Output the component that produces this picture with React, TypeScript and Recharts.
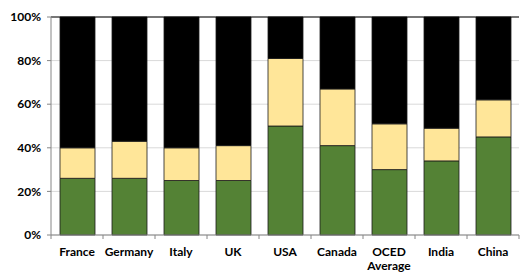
import React from "react";
import { BarChart, Bar, XAxis, YAxis, CartesianGrid, ReferenceLine } from "recharts";

const categories = ["France", "Germany", "Italy", "UK", "USA", "Canada", "OCED Average", "India", "China"];
const greenValues = [26, 26, 25, 25, 50, 41, 30, 34, 45];
const yellowValues = [14, 17, 15, 16, 31, 26, 21, 15, 17];
const blackValues = [60, 57, 60, 59, 19, 33, 49, 51, 38];
const yTicks = [0, 20, 40, 60, 80, 100];

const data = categories.map((name, i) => ({
  name,
  green: greenValues[i],
  yellow: yellowValues[i],
  black: blackValues[i],
}));

const FONT = "Lato, 'Open Sans', sans-serif";
const BAND = 468 / categories.length;

const XTick = (props: any) => {
  const { x, y, payload, index } = props;
  const words: string[] = payload.value === "OCED Average" ? ["OCED", "Average"] : [payload.value];
  return (
    <g>
      <line x1={x - BAND / 2} x2={x - BAND / 2} y1={y - 8} y2={y - 4} stroke="#868686" />
      {index === categories.length - 1 && (
        <line x1={x + BAND / 2} x2={x + BAND / 2} y1={y - 8} y2={y - 4} stroke="#868686" />
      )}
      <text x={x} y={y + 13} textAnchor="middle" fontFamily={FONT} fontWeight={700} fontSize={12} fill="#000">
        {words.map((w, i) => (
          <tspan key={i} x={x} dy={i === 0 ? 0 : 13.5}>
            {w}
          </tspan>
        ))}
      </text>
    </g>
  );
};

export default function App() {
  return (
    <div style={{ position: "absolute", left: 0, top: 0, width: 520, height: 272, background: "#fff" }}>
      <BarChart
        width={520}
        height={272}
        data={data}
        margin={{ top: 17, right: 1, bottom: 0, left: 0 }}
        barSize={35}
      >
        <CartesianGrid vertical={false} stroke="#d9d9d9" />
        <XAxis
          dataKey="name"
          height={37}
          interval={0}
          tickLine={false}
          axisLine={{ stroke: "#868686" }}
          tick={<XTick />}
        />
        <YAxis
          width={51}
          domain={[0, 100]}
          ticks={yTicks}
          tickFormatter={(v: number) => `${v}%`}
          axisLine={{ stroke: "#868686" }}
          tickLine={{ stroke: "#868686" }}
          tickSize={4}
          tickMargin={6}
          tick={{ fontFamily: FONT, fontWeight: 700, fontSize: 12, fill: "#000" }}
        />
        <Bar dataKey="green" stackId="a" fill="#548235" stroke="#1a1a1a" strokeWidth={0.8} isAnimationActive={false} />
        <Bar dataKey="yellow" stackId="a" fill="#ffe699" stroke="#1a1a1a" strokeWidth={0.8} isAnimationActive={false} />
        <Bar dataKey="black" stackId="a" fill="#000000" stroke="#1a1a1a" strokeWidth={0.8} isAnimationActive={false} />
        <ReferenceLine y={100} stroke="#000" strokeWidth={1.2} />
      </BarChart>
    </div>
  );
}
